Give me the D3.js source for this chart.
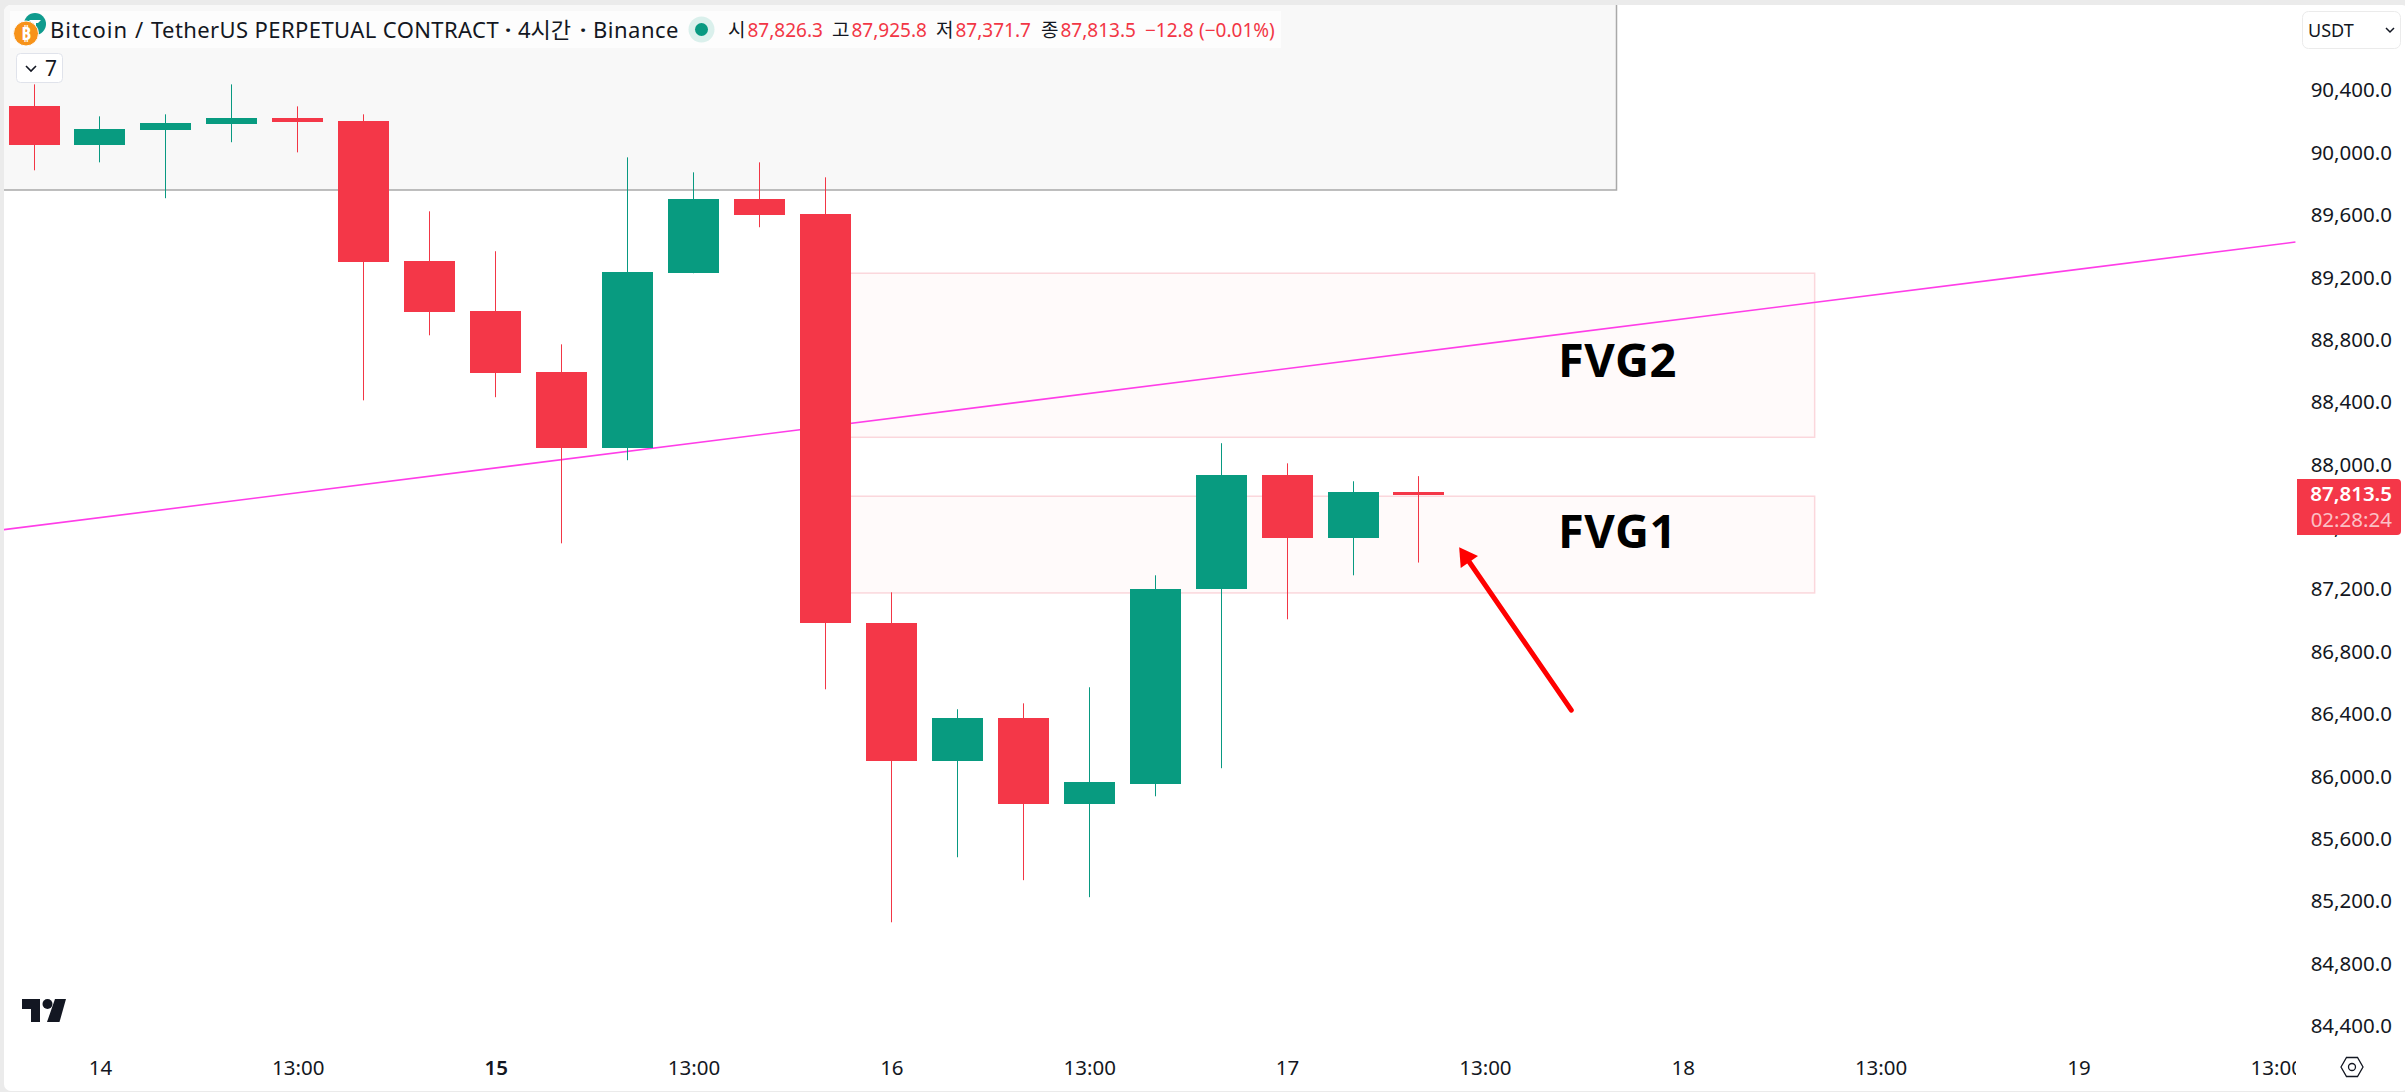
<!doctype html>
<html lang="ko">
<head>
<meta charset="utf-8">
<title>BTCUSDT 4h</title>
<script src="https://cdn.jsdelivr.net/npm/d3@7"></script>
<style>
  html, body { margin: 0; padding: 0; background: #ebebeb; overflow: hidden; }
  svg { display: block; }
  text { font-family: "Noto Sans", "Noto Sans CJK KR", sans-serif; }
  .axis path, .axis line { display: none; }
  .axis text { font-family: "Noto Sans", sans-serif; font-size: 20.5px; fill: #131722; }
</style>
</head>
<body>
<script>
var W = 2405, H = 1092;

var opens  = [90297, 90047, 90144, 90182, 90220, 90201, 89304, 88983, 88592, 88104, 89227, 89701, 89605, 86982, 86098, 86373, 85822, 85950, 87200, 87931, 87527, 87826.3];
var highs  = [90438, 90233, 90246, 90438, 90297, 90246, 89624, 89368, 88771, 89970, 89874, 89938, 89842, 87181, 86431, 86469, 86572, 87290, 88137, 88008, 87893, 87925.8];
var lows   = [89887, 89938, 89708, 90067, 90002, 88412, 88829, 88432, 87495, 88028, 89227, 89522, 86559, 85065, 85482, 85335, 85226, 85873, 86053, 87008, 87290, 87371.7];
var closes = [90047, 90150, 90188, 90220, 90195, 89297, 88977, 88585, 88104, 89233, 89701, 89598, 86982, 86098, 86373, 85822, 85963, 87200, 87931, 87527, 87822, 87813.5];

var priceTicks = [90400, 90000, 89600, 89200, 88800, 88400, 88000, 87600, 87200, 86800, 86400, 86000, 85600, 85200, 84800, 84400];
var timeTickIdx = [1, 4, 7, 10, 13, 16, 19, 22, 25, 28, 31, 34];
var timeLabels = ["14", "13:00", "15", "13:00", "16", "13:00", "17", "13:00", "18", "13:00", "19", "13:00"];

// drawings, in bar index / price
var fvgNames  = ["FVG2", "FVG1"];
var fvgTops   = [89227, 87797];
var fvgBots   = [88175, 87177];
var fvgStart  = [12, 12];
var fvgEnd    = [27, 27];
var trendIdx   = [-0.6, 34.29];
var trendPrice = [87575, 89427];
var arrowIdx   = [23.31, 21.61];
var arrowPrice = [86425, 87470];

var titleParts = ["Bitcoin", "/", "TetherUS PERPETUAL CONTRACT", "·", "4시간", "·", "Binance"];
var titleX     = [50, 135, 151, 505, 518, 580, 593];
var legendKeys = ["시", "고", "저", "종"];
var legendVals = ["87,826.3", "87,925.8", "87,371.7", "87,813.5"];
var legendKeyX = [728, 832, 936, 1041];
var legendChange = ["−12.8", "(−0.01%)"];
var legendChangeX = [1145, 1199];

var RED = "#f23645", GREEN = "#089981";

var x = d3.scaleLinear().domain([0, 34]).range([34, 2276.3]);
var y = d3.scaleLinear().domain([90400, 84400]).range([90.3, 1026]);
var bodyW = 51;
var bodyLeft = i => Math.round(x(i) - bodyW / 2);

var svg = d3.select("body").append("svg").attr("width", W).attr("height", H);

var defs = svg.append("defs");
defs.append("clipPath").attr("id", "plot").append("rect").attr("x", 4).attr("y", 5).attr("width", 2292).attr("height", 1010);
defs.append("clipPath").attr("id", "timeClip").append("rect").attr("x", 0).attr("y", 1030).attr("width", 2296).attr("height", 60);
defs.append("clipPath").attr("id", "panel").append("rect").attr("x", 4).attr("y", 5).attr("width", W).attr("height", 1086).attr("rx", 7);

var root = svg.append("g").attr("clip-path", "url(#panel)");
root.append("rect").attr("x", 4).attr("y", 5).attr("width", W).attr("height", 1086).attr("fill", "#fff");

// grey selection box behind the top candles
root.append("rect").attr("x", 0).attr("y", 0).attr("width", 1616.5).attr("height", 190)
    .attr("fill", "#f8f8f8").attr("stroke", "#a9a9a9").attr("stroke-width", 1.5);

var plot = root.append("g").attr("clip-path", "url(#plot)");

// FVG zones
plot.selectAll("rect.fvg").data(fvgNames).enter().append("rect")
    .attr("class", "fvg")
    .attr("x", (_, i) => x(fvgStart[i]))
    .attr("y", (_, i) => y(fvgTops[i]))
    .attr("width", (_, i) => x(fvgEnd[i]) - x(fvgStart[i]))
    .attr("height", (_, i) => y(fvgBots[i]) - y(fvgTops[i]))
    .attr("fill", "#fffafa").attr("stroke", "#fbd7dc").attr("stroke-width", 1.5);

// trend line
plot.append("path")
    .attr("d", d3.line().x(d => x(trendIdx[d])).y(d => y(trendPrice[d]))([0, 1]))
    .attr("fill", "none").attr("stroke", "#ff3de8").attr("stroke-width", 1.6);

// candles
var candles = plot.selectAll("g.candle").data(d3.range(opens.length)).enter().append("g").attr("class", "candle");
var col = i => closes[i] >= opens[i] ? GREEN : RED;
candles.append("line")
    .attr("x1", i => bodyLeft(i) + bodyW / 2).attr("x2", i => bodyLeft(i) + bodyW / 2)
    .attr("y1", i => y(highs[i])).attr("y2", i => y(lows[i]))
    .attr("stroke", col).attr("stroke-width", 1);
candles.append("rect")
    .attr("x", bodyLeft)
    .attr("y", i => Math.round(y(Math.max(opens[i], closes[i]))))
    .attr("width", bodyW)
    .attr("height", i => Math.max(3, Math.round(Math.abs(y(opens[i]) - y(closes[i])))))
    .attr("fill", i => closes[i] >= opens[i] ? "#089b80" : "#f43748");

// FVG labels
root.selectAll("text.fvgLabel").data(fvgNames).enter().append("text")
    .attr("class", "fvgLabel")
    .attr("x", 1558)
    .attr("y", (_, i) => (y(fvgTops[i]) + y(fvgBots[i])) / 2 + [21.5, 3.5][i])
    .attr("font-size", 47).attr("font-weight", 700).attr("letter-spacing", 0.5).attr("fill", "#000")
    .text(d => d);

// red arrow
var tail = [x(arrowIdx[0]), y(arrowPrice[0])], tip = [x(arrowIdx[1]), y(arrowPrice[1])];
var ang = Math.atan2(tip[1] - tail[1], tip[0] - tail[0]);
var back = (len, off) => [tip[0] - len * Math.cos(ang) - off * Math.sin(ang), tip[1] - len * Math.sin(ang) + off * Math.cos(ang)];
root.append("line")
    .attr("x1", tail[0]).attr("y1", tail[1])
    .attr("x2", back(10, 0)[0]).attr("y2", back(10, 0)[1])
    .attr("stroke", "#ff0000").attr("stroke-width", 5).attr("stroke-linecap", "round");
root.append("polygon")
    .attr("points", [tip, back(18, 10.5), back(18, -10.5)].join(" "))
    .attr("fill", "#ff0000");

// axes
var yAxis = d3.axisRight(y).tickValues(priceTicks).tickSize(0).tickPadding(0).tickFormat(d3.format(",.1f"));
root.append("g").attr("class", "axis").attr("transform", "translate(2392,0)").call(yAxis)
    .selectAll("text").attr("text-anchor", "end").attr("x", 0);

var xAxis = d3.axisBottom(x).tickValues(timeTickIdx).tickSize(0).tickPadding(0)
    .tickFormat((_, i) => timeLabels[i]);
root.append("g").attr("clip-path", "url(#timeClip)").append("g")
    .attr("class", "axis").attr("transform", "translate(0,1060)").call(xAxis)
    .selectAll("text").attr("font-weight", (_, i) => timeLabels[i] === "15" ? 600 : null);

// legend strip
root.append("rect").attr("x", 10).attr("y", 11).attr("width", 1271).attr("height", 37).attr("fill", "#fdfdfd");

var btc = root.append("g");
btc.append("circle").attr("cx", 35).attr("cy", 24).attr("r", 11).attr("fill", "#0f9b8e");
btc.append("path").attr("d", "M29 20h12l-3 3h-2v6h-2v-6h-2z").attr("fill", "#fff");
btc.append("circle").attr("cx", 26).attr("cy", 33.5).attr("r", 12.5).attr("fill", "#f7931a").attr("stroke", "#fdfdfd").attr("stroke-width", 1);
btc.append("text").attr("x", 26).attr("y", 39.5).attr("text-anchor", "middle")
    .attr("font-size", 17).attr("font-weight", 700).attr("fill", "#fff").text("₿");

var titleSpacing = { "Bitcoin": 1, "TetherUS PERPETUAL CONTRACT": 0.4, "Binance": 0.5 };
root.append("text").attr("y", 37.5).attr("font-size", 22).attr("fill", "#131722")
    .selectAll("tspan").data(titleParts).enter().append("tspan")
    .attr("x", (_, i) => titleX[i])
    .attr("letter-spacing", d => titleSpacing[d] || null)
    .attr("font-weight", d => d === "·" ? 700 : null)
    .text(d => d);

root.append("circle").attr("cx", 701.5).attr("cy", 29.5).attr("r", 13).attr("fill", "#daf0ec");
root.append("circle").attr("cx", 701.5).attr("cy", 29.5).attr("r", 6.5).attr("fill", GREEN);

legendKeys.forEach(function(k, i) {
    root.append("text").attr("x", legendKeyX[i]).attr("y", 37).attr("font-size", 19).attr("fill", "#131722").text(k);
    root.append("text").attr("x", legendKeyX[i] + 19.5).attr("y", 37).attr("font-size", 19).attr("fill", RED).text(legendVals[i]);
});
legendChange.forEach(function(t, i) {
    root.append("text").attr("x", legendChangeX[i]).attr("y", 37).attr("font-size", 19).attr("fill", RED).text(t);
});

// collapse button
root.append("rect").attr("x", 16.5).attr("y", 53.5).attr("width", 46).attr("height", 29).attr("rx", 4)
    .attr("fill", "#fff").attr("stroke", "#e0e3eb").attr("stroke-width", 1);
root.append("path").attr("d", "M26 66l5 5 5-5").attr("fill", "none").attr("stroke", "#131722").attr("stroke-width", 1.6);
root.append("text").attr("x", 45).attr("y", 75.5).attr("font-size", 21).attr("fill", "#131722").text("7");

// currency button
root.append("rect").attr("x", 2302.5).attr("y", 11.5).attr("width", 98).attr("height", 37).attr("rx", 6)
    .attr("fill", "#fff").attr("stroke", "#ebebeb").attr("stroke-width", 1);
root.append("text").attr("x", 2308).attr("y", 37).attr("font-size", 18).attr("fill", "#131722").text("USDT");
root.append("path").attr("d", "M2386 28l4 4 4-4").attr("fill", "none").attr("stroke", "#131722").attr("stroke-width", 1.5);

// last price tag
root.append("path").attr("d", "M2297 479H2397a4 4 0 0 1 4 4V531a4 4 0 0 1 -4 4H2297Z").attr("fill", "#f43748");
root.append("text").attr("x", 2392).attr("y", 500.5).attr("text-anchor", "end")
    .attr("font-size", 20.5).attr("font-weight", 600).attr("fill", "#fff").text(d3.format(",.1f")(closes[closes.length - 1]));
root.append("text").attr("x", 2392).attr("y", 526.5).attr("text-anchor", "end")
    .attr("font-size", 20.5).attr("fill", "#fff").attr("fill-opacity", 0.7).text("02:28:24");

// TradingView mark
var tv = root.append("g").attr("transform", "translate(22,999)").attr("fill", "#131722");
tv.append("path").attr("d", "M0 0H18V23H9V10H0Z");
tv.append("circle").attr("cx", 25.5).attr("cy", 5).attr("r", 5);
tv.append("path").attr("d", "M33 0H44L37.5 23H25Z");

// settings hexagon
root.append("path").attr("d", "M2341 1067l5.5-9.5h11l5.5 9.5-5.5 9.5h-11Z").attr("fill", "none").attr("stroke", "#131722").attr("stroke-width", 1.3);
root.append("circle").attr("cx", 2352).attr("cy", 1067).attr("r", 3.5).attr("fill", "none").attr("stroke", "#131722").attr("stroke-width", 1.3);
</script>
</body>
</html>
